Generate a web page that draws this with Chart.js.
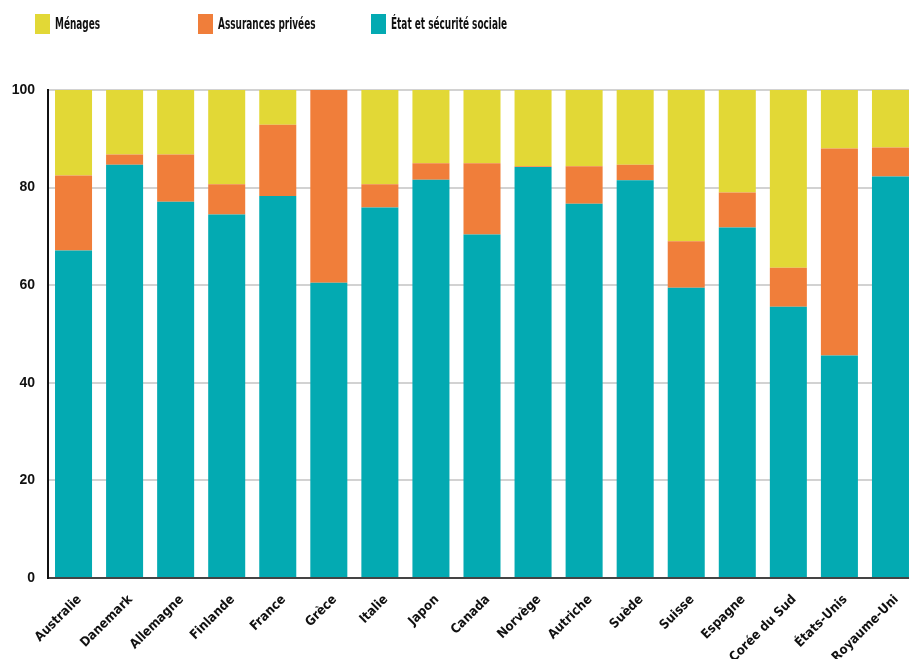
<!DOCTYPE html>
<html>
<head>
<meta charset="utf-8">
<script src="https://cdn.jsdelivr.net/npm/chart.js@4/dist/chart.umd.min.js"></script>
<style>
  html, body { margin: 0; padding: 0; overflow: hidden; background: #fff; }
  #wrap { position: relative; width: 916px; height: 659px; }
  .legend { position: absolute; top: 14px; height: 20px; font-family: 'DejaVu Sans Condensed', sans-serif; font-weight: bold; font-size: 16px; color: #111; line-height: 20px; white-space: nowrap; }
  .legend i { display: inline-block; width: 15px; height: 20px; vertical-align: top; margin-right: 5px; }
  .legend span { display: inline-block; transform: scaleX(0.62); transform-origin: left center; }
</style>
</head>
<body>
<div id="wrap">
  <div class="legend" style="left:35px"><i style="background:#e2d836"></i><span>Ménages</span></div>
  <div class="legend" style="left:198px"><i style="background:#f07e3a"></i><span>Assurances privées</span></div>
  <div class="legend" style="left:371px"><i style="background:#03aab2"></i><span>État et sécurité sociale</span></div>
  <canvas id="chart"></canvas>
</div>
<script>
const pays = ['Australie', 'Danemark', 'Allemagne', 'Finlande', 'France', 'Grèce', 'Italie', 'Japon', 'Canada',
    'Norvège', 'Autriche', 'Suède', 'Suisse', 'Espagne', 'Corée du Sud', 'États-Unis', 'Royaume-Uni'];
const etat = [67.1, 84.7, 77.1, 74.5, 78.3, 60.5, 75.9, 81.6, 70.4, 84.2, 76.7, 81.5, 59.5, 71.8, 55.6, 45.6, 82.3];
const assurances = [15.4, 2.1, 9.7, 6.2, 14.6, 39.5, 4.8, 3.4, 14.6, 0.2, 7.7, 3.2, 9.5, 7.2, 8.0, 42.4, 5.9];
const menages = [17.5, 13.2, 13.2, 19.3, 7.1, 0, 19.3, 15.0, 15.0, 15.6, 15.6, 15.3, 31.0, 21.0, 36.4, 12.0, 11.8];
const yTicks = [0, 20, 40, 60, 80, 100];

const ctx = document.getElementById('chart').getContext('2d');
window.myChart = new Chart(ctx, {
    type: 'bar',
    data: {
        labels: pays,
        datasets: [
            { label: 'État et sécurité sociale', data: etat, backgroundColor: '#03aab2' },
            { label: 'Assurances privées', data: assurances, backgroundColor: '#f07e3a' },
            { label: 'Ménages', data: menages, backgroundColor: '#e2d836' }
        ]
    },
    options: {
        responsive: true,
        maintainAspectRatio: false,
        animation: false,
        barPercentage: 0.725,
        categoryPercentage: 1,
        layout: { padding: { top: 90, left: 0, right: 0, bottom: 0 } },
        plugins: { legend: { display: false }, tooltip: { enabled: false } },
        scales: {
            x: {
                stacked: true,
                grid: { display: false, drawTicks: false },
                border: { color: '#444', width: 2 },
                ticks: {
                    minRotation: 45, maxRotation: 45, autoSkip: false, padding: 14, labelOffset: 6,
                    color: '#111',
                    font: { family: "'DejaVu Sans Condensed', sans-serif", weight: 'bold', size: 13 }
                },
                afterFit: s => { s.height = 81; }
            },
            y: {
                stacked: true,
                min: 0, max: 100,
                afterBuildTicks: s => { s.ticks = yTicks.map(v => ({ value: v })); },
                grid: { color: '#d2d2d2', lineWidth: 2, drawTicks: false },
                border: { color: '#111', width: 2 },
                ticks: {
                    padding: 13, color: '#111',
                    font: { family: "'Liberation Sans', sans-serif", weight: 'bold', size: 14 }
                },
                afterFit: s => { s.width = 48; }
            }
        }
    }
});
</script>
</body>
</html>
